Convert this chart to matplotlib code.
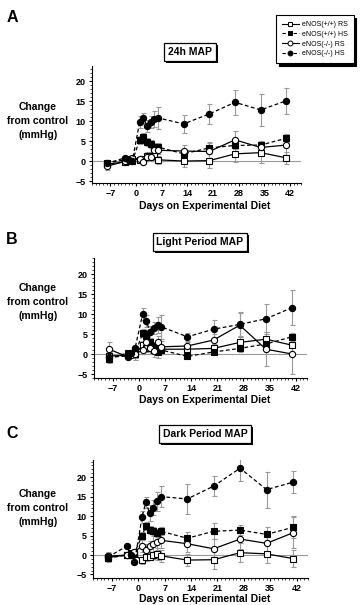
import matplotlib
matplotlib.use("Agg")
import matplotlib.pyplot as plt
import matplotlib.patheffects as pe
from matplotlib.lines import Line2D
from matplotlib.ticker import MultipleLocator, FixedLocator

plt.rcParams['font.family'] = ['Liberation Sans', 'DejaVu Sans']

days = [-8, -3, -2, -1, 1, 2, 3, 4, 5, 6, 13, 20, 27, 34, 41]
x_ticks = [-7, 0, 7, 14, 21, 28, 35, 42]
y_ticks = [-5, 0, 5, 10, 15, 20]
series_names = ["eNOS(+/+) RS", "eNOS(+/+) HS", "eNOS(-/-) RS", "eNOS(-/-) HS"]
panel_titles = ["24h MAP", "Light Period MAP", "Dark Period MAP"]
panel_letters = ["A", "B", "C"]

# Panel A: 24h MAP
a_wt_rs = [-0.8, -0.2, 0.0, 0.5, 0.3, 0.5, 1.2, 1.2, 1.2, 0.3, 0.0, 0.1, 1.8, 2.1, 0.8]
a_wt_hs = [-0.5, 0.3, 0.2, 0.0, 5.3, 6.0, 4.8, 4.3, 3.5, 3.5, 1.8, 3.3, 3.9, 4.0, 5.7]
a_ko_rs = [-1.3, -0.1, 0.4, 0.8, 0.5, -0.3, 1.0, 1.1, 2.7, 2.7, 2.5, 2.4, 5.3, 3.4, 4.0]
a_ko_hs = [-0.6, 0.8, 0.3, 0.0, 9.8, 10.8, 8.8, 9.8, 10.5, 10.8, 9.3, 11.8, 14.7, 12.8, 15.1]
a_wt_rs_err = [1.0, 0.5, 0.5, 0.5, 0.5, 0.5, 1.0, 1.0, 1.0, 1.0, 1.5, 1.8, 2.0, 2.5, 1.5]
a_wt_hs_err = [0.5, 0.5, 0.5, 0.5, 1.0, 1.0, 1.0, 1.0, 1.0, 1.0, 1.0, 1.5, 1.0, 1.0, 1.0]
a_ko_rs_err = [1.0, 0.5, 0.5, 0.5, 0.5, 0.5, 1.0, 1.0, 1.0, 1.0, 1.5, 2.0, 2.3, 1.5, 2.5]
a_ko_hs_err = [0.5, 0.5, 0.5, 0.5, 1.5, 1.2, 1.5, 1.5, 2.0, 2.8, 2.3, 2.5, 3.2, 4.0, 3.3]

# Panel B: Light period MAP
b_wt_rs = [-0.5, -0.3, 0.0, 0.0, 2.2, 1.5, 1.8, 1.0, 1.5, 1.2, 1.2, 1.4, 2.9, 3.7, 2.2]
b_wt_hs = [-1.2, 0.3, 0.0, 0.0, 5.2, 4.5, 3.0, 2.0, 0.5, 1.0, -0.6, 0.5, 1.4, 2.5, 4.3]
b_ko_rs = [1.2, -0.7, -0.3, 0.0, 1.0, 3.0, 1.5, 0.8, 3.0, 1.8, 2.0, 3.5, 7.2, 1.2, 0.0]
b_ko_hs = [-0.8, -0.5, 0.3, 1.5, 9.9, 8.2, 5.5, 6.5, 7.3, 6.8, 4.3, 6.2, 7.4, 8.8, 11.6]
b_wt_rs_err = [1.0, 0.5, 0.5, 1.0, 1.0, 1.0, 1.0, 1.0, 1.0, 1.0, 1.0, 1.0, 1.5, 1.8, 2.0]
b_wt_hs_err = [1.0, 0.5, 0.5, 0.5, 1.0, 1.0, 1.0, 1.0, 1.5, 1.0, 0.5, 0.5, 1.0, 1.5, 1.0]
b_ko_rs_err = [1.8, 0.5, 0.5, 1.5, 1.0, 1.0, 1.5, 1.5, 1.5, 1.5, 1.0, 1.5, 3.0, 4.2, 5.0]
b_ko_hs_err = [0.5, 0.5, 0.5, 0.5, 1.5, 1.5, 1.5, 1.5, 2.0, 3.0, 1.0, 2.2, 3.2, 3.7, 4.3]

# Panel C: Dark period MAP
c_wt_rs = [-0.6, 0.0, 0.0, 0.2, -1.4, -0.6, -0.4, -0.1, 0.2, -0.2, -1.3, -1.2, 0.6, 0.3, -0.9]
c_wt_hs = [-0.8, 0.0, 0.5, 0.5, 5.0, 7.4, 6.4, 6.2, 5.7, 6.1, 4.3, 6.1, 6.4, 5.3, 7.1]
c_ko_rs = [-0.3, 0.0, 0.3, 0.8, 2.3, 1.3, 2.2, 2.8, 3.3, 3.8, 2.9, 1.6, 4.1, 3.0, 5.7]
c_ko_hs = [-0.5, 2.3, 0.0, -1.9, 9.8, 13.5, 10.8, 12.2, 13.8, 15.0, 14.4, 17.7, 22.3, 16.8, 18.7]
c_wt_rs_err = [1.0, 0.5, 0.5, 0.5, 1.0, 1.0, 1.0, 1.0, 1.5, 1.5, 1.5, 2.5, 2.4, 2.3, 2.3]
c_wt_hs_err = [1.0, 0.5, 0.5, 0.5, 1.0, 1.0, 1.0, 1.0, 1.0, 1.0, 1.5, 2.0, 1.3, 2.0, 2.8]
c_ko_rs_err = [1.0, 0.5, 0.5, 0.5, 1.5, 1.5, 1.5, 2.0, 2.0, 2.0, 2.0, 2.5, 2.5, 2.5, 4.0]
c_ko_hs_err = [1.0, 0.5, 0.5, 0.5, 1.5, 1.5, 2.0, 2.0, 2.5, 2.7, 3.8, 2.5, 3.4, 4.6, 2.8]

panels = [
    (a_wt_rs, a_wt_hs, a_ko_rs, a_ko_hs, a_wt_rs_err, a_wt_hs_err, a_ko_rs_err, a_ko_hs_err),
    (b_wt_rs, b_wt_hs, b_ko_rs, b_ko_hs, b_wt_rs_err, b_wt_hs_err, b_ko_rs_err, b_ko_hs_err),
    (c_wt_rs, c_wt_hs, c_ko_rs, c_ko_hs, c_wt_rs_err, c_wt_hs_err, c_ko_rs_err, c_ko_hs_err),
]

W, H = 363, 605
fig = plt.figure(figsize=(W / 100, H / 100), dpi=100)

# axes boxes in pixels: left, right, top, bottom
ax_px = [(92, 301, 66, 183), (94, 307, 258, 378), (93, 308, 460, 578)]
ylims = [(-5.5, 23.8), (-6.0, 24.0), (-5.9, 24.4)]
title_pos = [(190, 52), (200, 242), (205, 434)]
letter_pos = [(12, 18), (12, 239), (12, 433)]
ylab_y = [121, 302, 508]
xlab_y = [206, 400, 599]

styles = [
    dict(marker='s', mfc='white', ls='-'),
    dict(marker='s', mfc='black', ls='--'),
    dict(marker='o', mfc='white', ls='-'),
    dict(marker='o', mfc='black', ls='--'),
]

for i, pdata in enumerate(panels):
    l, r, t, b = ax_px[i]
    ax = fig.add_axes([l / W, 1 - b / H, (r - l) / W, (b - t) / H])
    ax.set_xlim(-12, 45)
    ax.set_ylim(*ylims[i])
    ax.axhline(0, color='#999999', lw=0.8, zorder=1)
    vals = pdata[:4]
    errs = pdata[4:]
    for k in range(4):
        ax.errorbar(days, vals[k], yerr=errs[k], fmt='none', ecolor='#9a9a9a',
                    elinewidth=0.8, capsize=1.8, capthick=0.8, zorder=2)
    for k in [0, 2, 1, 3]:
        st = styles[k]
        kw = dict(color='black', lw=0.9, marker=st['marker'], ms=4.5, mfc=st['mfc'],
                  mec='black', mew=0.8, zorder=3 + k)
        if st['ls'] == '--':
            kw['dashes'] = (3, 2)
        else:
            kw['ls'] = '-'
        ax.plot(days, vals[k], **kw)
    for s in ['top', 'right']:
        ax.spines[s].set_visible(False)
    ax.spines['left'].set_linewidth(0.8)
    ax.spines['bottom'].set_linewidth(0.8)
    ax.xaxis.set_major_locator(FixedLocator(x_ticks))
    ax.xaxis.set_minor_locator(MultipleLocator(1))
    ax.yaxis.set_major_locator(FixedLocator(y_ticks))
    ax.yaxis.set_minor_locator(MultipleLocator(1))
    ax.tick_params(which='major', length=2.5, width=0.8, labelsize=6.5, pad=2)
    ax.tick_params(which='minor', length=1.3, width=0.5)
    for lab in ax.get_xticklabels() + ax.get_yticklabels():
        lab.set_fontweight('bold')

    tx, ty = title_pos[i]
    txt = fig.text(tx / W, 1 - ty / H, panel_titles[i], ha='center', va='center',
                   fontsize=7.5, fontweight='bold',
                   bbox=dict(boxstyle='square,pad=0.35', fc='white', ec='black', lw=0.9))
    txt.get_bbox_patch().set_path_effects([
        pe.SimplePatchShadow(offset=(1.5, -1.5), shadow_rgbFace='black', alpha=1.0),
        pe.Normal()])
    lx, ly = letter_pos[i]
    fig.text(lx / W, 1 - ly / H, panel_letters[i], ha='center', va='center',
             fontsize=11.5, fontweight='bold')
    fig.text(38 / W, 1 - ylab_y[i] / H, "Change\nfrom control\n(mmHg)", ha='center',
             va='center', fontsize=7.5, fontweight='bold', linespacing=1.5)
    fig.text(205 / W, 1 - xlab_y[i] / H, "Days on Experimental Diet", ha='center',
             va='center', fontsize=7.5, fontweight='bold')

handles = []
for k in range(4):
    st = styles[k]
    kw = dict(color='black', lw=0.8, marker=st['marker'], ms=3.5, mfc=st['mfc'],
              mec='black', mew=0.7)
    if st['ls'] == '--':
        kw['dashes'] = (3, 2)
    handles.append(Line2D([], [], **kw))
leg = fig.legend(handles, series_names, loc='upper left',
                 bbox_to_anchor=(273 / W, 1 - 12 / H), fontsize=5.0, frameon=True,
                 fancybox=False, handlelength=2.4, handletextpad=0.5, borderpad=0.8,
                 labelspacing=0.4, shadow={'color': 'black', 'alpha': 1.0, 'ox': 2, 'oy': -2})
leg.get_frame().set_edgecolor('black')
leg.get_frame().set_linewidth(0.8)

fig.savefig('out.png', dpi=100)
